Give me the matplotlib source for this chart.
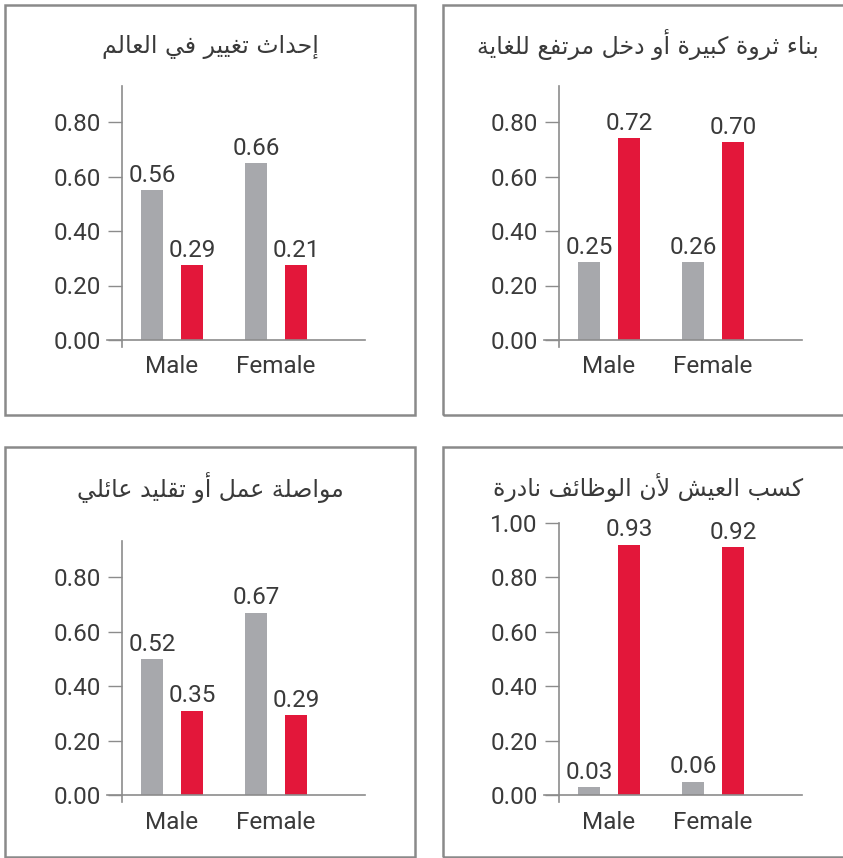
import matplotlib
matplotlib.use("Agg")
import matplotlib.pyplot as plt
from matplotlib.patches import Rectangle

plt.rcParams['font.family'] = ['Roboto', 'DejaVu Sans']

titles = ['إحداث تغيير في العالم',
          'بناء ثروة كبيرة أو دخل مرتفع للغاية',
          'مواصلة عمل أو تقليد عائلي',
          'كسب العيش لأن الوظائف نادرة']
categories = ['Male', 'Female']
# bar heights as drawn in the picture
gray_vals = [[0.55, 0.65], [0.285, 0.285], [0.50, 0.67], [0.03, 0.05]]
red_vals = [[0.275, 0.275], [0.74, 0.725], [0.31, 0.295], [0.92, 0.91]]
# printed labels
gray_labels = [['0.56', '0.66'], ['0.25', '0.26'], ['0.52', '0.67'], ['0.03', '0.06']]
red_labels = [['0.29', '0.21'], ['0.72', '0.70'], ['0.35', '0.29'], ['0.93', '0.92']]
y_tops = [0.932, 0.932, 0.932, 1.0]
y_ticks = [[0, 0.2, 0.4, 0.6, 0.8]] * 3 + [[0, 0.2, 0.4, 0.6, 0.8, 1.0]]

GRAY = '#a7a8ac'
RED = '#e3173a'
TXT = '#3a3a3a'
LINE = '#8c8c8c'
FS = 17.5

# --- simple arabic shaping (presentation forms + rtl order) ---
FORMS = {
    '\u0621': (0xFE80, 0), '\u0622': (0xFE81, 1), '\u0623': (0xFE83, 1),
    '\u0624': (0xFE85, 1), '\u0625': (0xFE87, 1), '\u0626': (0xFE89, 2),
    '\u0627': (0xFE8D, 1), '\u0628': (0xFE8F, 2), '\u0629': (0xFE93, 1),
    '\u062A': (0xFE95, 2), '\u062B': (0xFE99, 2), '\u062C': (0xFE9D, 2),
    '\u062D': (0xFEA1, 2), '\u062E': (0xFEA5, 2), '\u062F': (0xFEA9, 1),
    '\u0630': (0xFEAB, 1), '\u0631': (0xFEAD, 1), '\u0632': (0xFEAF, 1),
    '\u0633': (0xFEB1, 2), '\u0634': (0xFEB5, 2), '\u0635': (0xFEB9, 2),
    '\u0636': (0xFEBD, 2), '\u0637': (0xFEC1, 2), '\u0638': (0xFEC5, 2),
    '\u0639': (0xFEC9, 2), '\u063A': (0xFECD, 2), '\u0641': (0xFED1, 2),
    '\u0642': (0xFED5, 2), '\u0643': (0xFED9, 2), '\u0644': (0xFEDD, 2),
    '\u0645': (0xFEE1, 2), '\u0646': (0xFEE5, 2), '\u0647': (0xFEE9, 2),
    '\u0648': (0xFEED, 1), '\u0649': (0xFEEF, 1), '\u064A': (0xFEF1, 2),
}
LAM_ALEF = {'\u0622': 0xFEF5, '\u0623': 0xFEF7, '\u0625': 0xFEF9, '\u0627': 0xFEFB}


def shape(text):
    items = []
    i = 0
    while i < len(text):
        c = text[i]
        if c == '\u0644' and i + 1 < len(text) and text[i + 1] in LAM_ALEF:
            items.append((c, LAM_ALEF[text[i + 1]]))
            i += 2
        else:
            items.append((c, None))
            i += 1

    def kind(it):
        if it[1] is not None:
            return 1
        return FORMS.get(it[0], (None, -1))[1]

    out = []
    for i, it in enumerate(items):
        k = kind(it)
        prev = i > 0 and kind(items[i - 1]) == 2 and k >= 1
        if it[1] is not None:
            out.append(chr(it[1] + (1 if prev else 0)))
            continue
        if k < 0:
            out.append(it[0])
            continue
        nxt = k == 2 and i + 1 < len(items) and kind(items[i + 1]) >= 1
        off = 3 if (prev and nxt) else 2 if nxt else 1 if prev else 0
        out.append(chr(FORMS[it[0]][0] + off))
    return ''.join(reversed(out))


W, H = 843, 858
fig = plt.figure(figsize=(W / 100, H / 100), dpi=100)

# panel boxes: (left, top) in px, title centre y, male centre x, zero y
panels = [(5, 5, 47, 172, 340), (443, 5, 45, 609, 340),
          (5, 447, 487, 172, 795.3), (443, 447, 487, 609, 795.3)]
PX_UNIT = 272.5
GROUP_PX = 104
X_LEFT, X_RIGHT, SPINE_X = -0.625, 1.86, -0.485
Y_BOT = -0.026
bw, off = 0.21, 0.192

for k, (px, py, ty, mx, zy) in enumerate(panels):
    fig.patches.append(Rectangle((px / W, 1 - (py + 410) / H), 410 / W, 410 / H,
                                 transform=fig.transFigure, fill=False,
                                 edgecolor='#8a8a8a', linewidth=1.8))
    fig.text((px + 205) / W, 1 - ty / H, shape(titles[k]), ha='center', va='center',
             fontsize=17, color=TXT, family=['DejaVu Sans'])

    top = y_tops[k]
    left_px = mx + X_LEFT * GROUP_PX
    w_px = (X_RIGHT - X_LEFT) * GROUP_PX
    top_px = zy - top * PX_UNIT
    h_px = (top - Y_BOT) * PX_UNIT
    ax = fig.add_axes([left_px / W, 1 - (top_px + h_px) / H, w_px / W, h_px / H])
    ax.set_xlim(X_LEFT, X_RIGHT)
    ax.set_ylim(Y_BOT, top)

    x = list(range(len(categories)))
    ax.bar([v - off for v in x], gray_vals[k], width=bw, color=GRAY)
    ax.bar([v + off for v in x], red_vals[k], width=bw, color=RED)
    for xi, h, lab in zip(x, gray_vals[k], gray_labels[k]):
        ax.annotate(lab, (xi - off, h), xytext=(0, 6), textcoords='offset points',
                    ha='center', va='baseline', fontsize=FS, color=TXT)
    for xi, h, lab in zip(x, red_vals[k], red_labels[k]):
        ax.annotate(lab, (xi + off, h), xytext=(0, 6), textcoords='offset points',
                    ha='center', va='baseline', fontsize=FS, color=TXT)

    for s in ['top', 'right']:
        ax.spines[s].set_visible(False)
    ax.spines['left'].set_position(('data', SPINE_X))
    ax.spines['bottom'].set_position(('data', 0))
    for s in ['left', 'bottom']:
        ax.spines[s].set_color(LINE)
        ax.spines[s].set_linewidth(1.2)
    ax.set_yticks(y_ticks[k])
    ax.set_yticklabels(['%.2f' % t for t in y_ticks[k]])
    ax.tick_params(axis='y', length=10, width=1, color=LINE, pad=5,
                   labelsize=FS, labelcolor=TXT)
    ax.set_xticks(x)
    ax.set_xticklabels(categories)
    ax.tick_params(axis='x', length=0, pad=11, labelsize=FS, labelcolor=TXT)
    ax.patch.set_alpha(0)

fig.savefig('out.png', dpi=100)
